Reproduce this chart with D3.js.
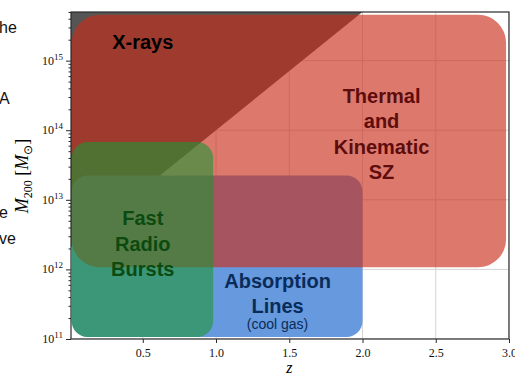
<!DOCTYPE html>
<html>
<head>
<meta charset="utf-8">
<script src="https://cdn.jsdelivr.net/npm/d3@7"></script>
<style>
  body { margin: 0; background: #fff; }
  svg { display: block; }
</style>
</head>
<body>
<svg></svg>
<script>
// Regions of the z - M200 plane (z range, log10 mass range)
const regionNames = ["Absorption Lines", "Thermal and Kinematic SZ", "Fast Radio Bursts"];
const regionZMin = [0.015, 0.015, 0.015];
const regionZMax = [2.0, 2.98, 0.98];
const regionLogMMin = [11.03, 12.03, 11.03];
const regionLogMMax = [13.35, 15.66, 13.83];

// X-ray wedge (upper left, above the diagonal)
const xrayZ = [0.0, 2.0, 0.0];
const xrayLogM = [15.7, 15.7, 12.3];

// Tick labels
const xTicks = [0.5, 1.0, 1.5, 2.0, 2.5, 3.0];
const yTickExps = [11, 12, 13, 14, 15];

// Styles
const regionStyle = {
  "Absorption Lines": { fill: "#6699dd", opacity: 1, rx: 16 },
  "Thermal and Kinematic SZ": { fill: "#c82d19", opacity: 0.64, rx: 28 },
  "Fast Radio Bursts": { fill: "#1e9635", opacity: 0.6, rx: 16 }
};

const W = 515, H = 377;
const plot = { left: 71, right: 509, top: 12, bottom: 339 };

const svg = d3.select("svg").attr("width", W).attr("height", H);

const x = d3.scaleLinear().domain([0.01, 3]).range([plot.left, plot.right]);
const y = d3.scaleLog().domain([1e11, 5e15]).range([plot.bottom, plot.top]);

// Clip
svg.append("clipPath").attr("id", "plotclip")
  .append("rect")
  .attr("x", plot.left).attr("y", plot.top)
  .attr("width", plot.right - plot.left).attr("height", plot.bottom - plot.top);

const g = svg.append("g").attr("clip-path", "url(#plotclip)");

// Grid
g.selectAll(".vgrid").data(xTicks).join("line")
  .attr("x1", d => x(d)).attr("x2", d => x(d))
  .attr("y1", plot.top).attr("y2", plot.bottom)
  .attr("stroke", "#d4d4d4").attr("stroke-width", 1);
g.selectAll(".hgrid").data(yTickExps).join("line")
  .attr("y1", d => y(Math.pow(10, d))).attr("y2", d => y(Math.pow(10, d)))
  .attr("x1", plot.left).attr("x2", plot.right)
  .attr("stroke", "#d4d4d4").attr("stroke-width", 1);

// X-ray wedge
g.append("path")
  .attr("d", d3.line()(xrayZ.map((z, i) => [x(z), y(Math.pow(10, xrayLogM[i]))])) + "Z")
  .attr("fill", "#555555");

// Region boxes
regionNames.forEach((name, i) => {
  const s = regionStyle[name];
  const x0 = x(regionZMin[i]), x1 = x(regionZMax[i]);
  const y0 = y(Math.pow(10, regionLogMMax[i])), y1 = y(Math.pow(10, regionLogMMin[i]));
  g.append("rect")
    .attr("x", x0).attr("y", y0)
    .attr("width", x1 - x0).attr("height", y1 - y0)
    .attr("rx", s.rx).attr("ry", s.rx)
    .attr("fill", s.fill).attr("fill-opacity", s.opacity);
});

// Labels inside regions
const bold = "'Liberation Sans', Arial, Helvetica, sans-serif";
function label(lines, cx, cy0, step, color, size) {
  lines.forEach((t, i) => {
    svg.append("text")
      .attr("x", cx).attr("y", cy0 + i * step)
      .attr("text-anchor", "middle").attr("dominant-baseline", "central")
      .attr("font-family", bold).attr("font-weight", "bold")
      .attr("font-size", size).attr("fill", color)
      .text(t);
  });
}
label(["X-rays"], x(0.5), 42, 0, "#000000", 20);
label(["Thermal", "and", "Kinematic", "SZ"], x(2.13), 96, 25.3, "#5e0c0c", 20);
label(["Fast", "Radio", "Bursts"], x(0.5), 218, 25.5, "#0c4a10", 20);
label(["Absorption", "Lines"], x(1.42), 281, 24.5, "#0a2c5a", 20);
svg.append("text")
  .attr("x", x(1.42)).attr("y", 324)
  .attr("text-anchor", "middle").attr("dominant-baseline", "central")
  .attr("font-family", bold).attr("font-size", 14).attr("fill", "#0a2c5a")
  .text("(cool gas)");

// Frame
svg.append("rect")
  .attr("x", plot.left).attr("y", plot.top)
  .attr("width", plot.right - plot.left).attr("height", plot.bottom - plot.top)
  .attr("fill", "none").attr("stroke", "#2a2a2a").attr("stroke-width", 1.2);

// Axes
const serif = "'Liberation Serif', 'Times New Roman', serif";

const xAxis = svg.append("g")
  .attr("transform", `translate(0,${plot.bottom})`)
  .call(d3.axisBottom(x).tickValues(xTicks).tickSize(4).tickPadding(5).tickFormat(d3.format(".1f")));
xAxis.select(".domain").remove();
xAxis.selectAll("text").attr("font-family", serif).attr("font-size", 12).attr("fill", "#111");
xAxis.selectAll("line").attr("stroke", "#2a2a2a");

const minorVals = [];
for (let e = 11; e <= 15; e++) {
  for (let m = 2; m <= 9; m++) {
    const v = m * Math.pow(10, e);
    if (v <= 5e15) minorVals.push(v);
  }
}
const yMinor = svg.append("g")
  .attr("transform", `translate(${plot.left},0)`)
  .call(d3.axisLeft(y).tickValues(minorVals).tickSize(2.5).tickFormat(""));
yMinor.select(".domain").remove();
yMinor.selectAll("line").attr("stroke", "#2a2a2a");

const yMajor = svg.append("g")
  .attr("transform", `translate(${plot.left},0)`)
  .call(d3.axisLeft(y).tickValues(yTickExps.map(e => Math.pow(10, e))).tickSize(5).tickFormat(""));
yMajor.select(".domain").remove();
yMajor.selectAll("line").attr("stroke", "#2a2a2a");

yTickExps.forEach(e => {
  const t = svg.append("text")
    .attr("x", plot.left - 8).attr("y", y(Math.pow(10, e)) + 4)
    .attr("text-anchor", "end")
    .attr("font-family", serif).attr("font-size", 12).attr("fill", "#111");
  t.append("tspan").text("10");
  t.append("tspan").attr("dy", -5).attr("font-size", 9).text(e);
});

// Axis titles
svg.append("text")
  .attr("x", x(1.5)).attr("y", 373)
  .attr("text-anchor", "middle")
  .attr("font-family", serif).attr("font-style", "italic").attr("font-size", 16)
  .text("z");

const yl = svg.append("text")
  .attr("transform", "translate(28,176) rotate(-90)")
  .attr("text-anchor", "middle")
  .attr("font-family", serif).attr("font-size", 18);
yl.append("tspan").attr("font-style", "italic").text("M");
yl.append("tspan").attr("font-size", 12).attr("dy", 4).text("200");
yl.append("tspan").attr("dy", -4).text(" [");
yl.append("tspan").attr("font-style", "italic").text("M");
yl.append("tspan").attr("font-size", 12).attr("dy", 4).text("\u2299");
yl.append("tspan").attr("dy", -4).text("]");

// Fragments of the surrounding page text on the left edge
const sideText = ["he", "A", "e", "ve"];
const sideY = [27, 98, 212, 238];
sideText.forEach((t, i) => {
  svg.append("text")
    .attr("x", -1).attr("y", sideY[i])
    .attr("dominant-baseline", "central")
    .attr("font-family", bold).attr("font-size", 16).attr("fill", "#111")
    .text(t);
});
</script>
</body>
</html>
